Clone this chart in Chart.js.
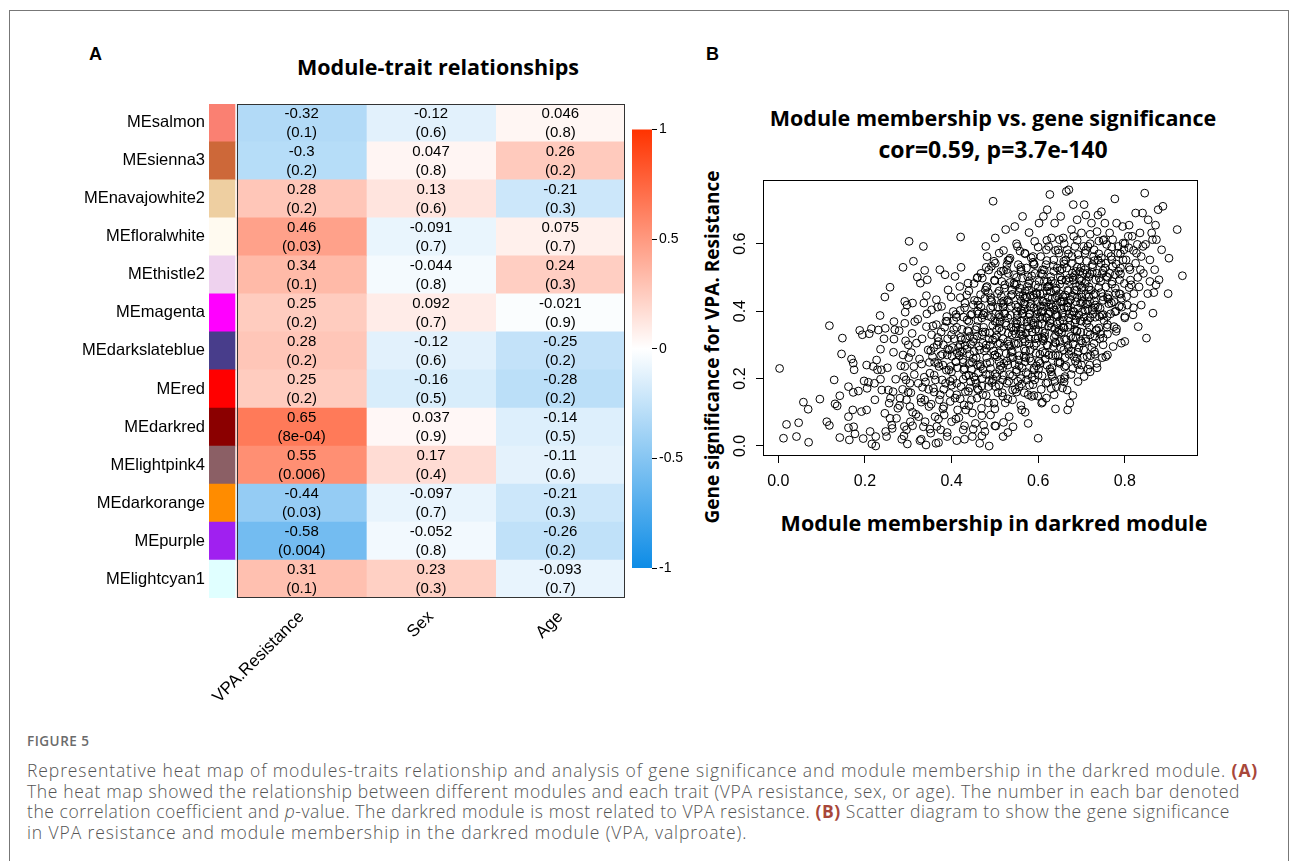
<!DOCTYPE html>
<html>
<head>
<meta charset="utf-8">
<script src="https://cdn.jsdelivr.net/npm/chart.js@4.4.1/dist/chart.umd.min.js"></script>
<style>
  body { margin: 0; width: 1293px; height: 861px; overflow: hidden; position: relative; background: #fff; font-family: 'Liberation Sans', Arial, sans-serif; }
  .frame { position: absolute; left: 9px; top: 10px; width: 1278px; height: 900px; border: 1px solid #777; }
  canvas { position: absolute; }
  .lbl { position: absolute; white-space: nowrap; transform: translate(-50%, -50%); color: #000; }
  .hd { font-family: 'Open Sans', Lato, sans-serif; font-weight: 700; }
  .panel { position: absolute; font-family: 'Liberation Sans', Arial, sans-serif; font-weight: 700; font-size: 18px; }
  .cap { position: absolute; left: 27px; white-space: nowrap; font-family: 'Open Sans', sans-serif; font-weight: 300; color: #555; font-size: 17.5px; letter-spacing: 0.9px; }
  .cap b { font-weight: 700; color: #a8473a; }
  .figno { position: absolute; left: 27px; top: 732px; font-family: 'Open Sans', sans-serif; color: #6b6b6b; font-size: 13.5px; letter-spacing: 0.5px; font-weight: 600; }
</style>
</head>
<body>
<div class="frame"></div>

<div class="panel" style="left:89px; top:44px;">A</div>
<div class="panel" style="left:706px; top:44px;">B</div>
<div class="lbl hd" style="left:438px; top:66px; font-size:21.5px;">Module-trait relationships</div>
<div class="lbl hd" style="left:993px; top:117px; font-size:21.5px;">Module membership vs. gene significance</div>
<div class="lbl hd" style="left:993px; top:149px; font-size:23px;">cor=0.59, p=3.7e-140</div>
<div class="lbl hd" style="left:994px; top:522px; font-size:21.5px;">Module membership in darkred module</div>
<div class="lbl hd" style="left:712px; top:347px; font-size:19px; transform:translate(-50%,-50%) rotate(-90deg);">Gene significance for VPA. Resistance</div>

<canvas id="heat" width="580" height="630" style="left:60px; top:90px;"></canvas>
<canvas id="bar" width="70" height="462" style="left:622px; top:119px;"></canvas>
<canvas id="scatter" width="520" height="330" style="left:690px; top:170px;"></canvas>

<div class="figno">FIGURE 5</div>
<div class="cap" style="top:758px;">Representative heat map of modules-traits relationship and analysis of gene significance and module membership in the darkred module. <b>(A)</b></div>
<div class="cap" style="top:779px; letter-spacing:0.65px;">The heat map showed the relationship between different modules and each trait (VPA resistance, sex, or age). The number in each bar denoted</div>
<div class="cap" style="top:799px; letter-spacing:0.55px;">the correlation coefficient and <i>p</i>-value. The darkred module is most related to VPA resistance. <b>(B)</b> Scatter diagram to show the gene significance</div>
<div class="cap" style="top:820px;">in VPA resistance and module membership in the darkred module (VPA, valproate).</div>

<script>
// module-trait table
var modules = ['MEsalmon', 'MEsienna3', 'MEnavajowhite2', 'MEfloralwhite', 'MEthistle2', 'MEmagenta',
  'MEdarkslateblue', 'MEred', 'MEdarkred', 'MElightpink4', 'MEdarkorange', 'MEpurple', 'MElightcyan1'];
var moduleColors = ['#FA8072', '#CD6839', '#EECFA1', '#FFFAF0', '#EED2EE', '#FF00FF',
  '#483D8B', '#FF0000', '#8B0000', '#8B5F65', '#FF8C00', '#A020F0', '#E0FFFF'];
var traits = ['VPA.Resistance', 'Sex', 'Age'];
var corVPA = [-0.32, -0.3, 0.28, 0.46, 0.34, 0.25, 0.28, 0.25, 0.65, 0.55, -0.44, -0.58, 0.31];
var pVPA = ['0.1', '0.2', '0.2', '0.03', '0.1', '0.2', '0.2', '0.2', '8e-04', '0.006', '0.03', '0.004', '0.1'];
var corSex = [-0.12, 0.047, 0.13, -0.091, -0.044, 0.092, -0.12, -0.16, 0.037, 0.17, -0.097, -0.052, 0.23];
var pSex = ['0.6', '0.8', '0.6', '0.7', '0.8', '0.7', '0.6', '0.5', '0.9', '0.4', '0.7', '0.8', '0.3'];
var corAge = [0.046, 0.26, -0.21, 0.075, 0.24, -0.021, -0.25, -0.28, -0.14, -0.11, -0.21, -0.26, -0.093];
var pAge = ['0.8', '0.2', '0.3', '0.7', '0.3', '0.9', '0.2', '0.2', '0.5', '0.6', '0.3', '0.2', '0.7'];
var colorbarTicks = [1, 0.5, 0, -0.5, -1];

// module membership vs gene significance
var mmTicks = [0, 0.2, 0.4, 0.6, 0.8];
var gsTicks = [0, 0.2, 0.4, 0.6];
var mmGsOuter = [[0.003,0.23],[0.012,0.023],[0.019,0.064],[0.042,0.028],[0.047,0.069],[0.058,0.13],[0.069,0.109],[0.07,0.011],[0.096,0.139],[0.112,0.072],[0.118,0.061],[0.118,0.357],[0.129,0.196],[0.131,0.125],[0.136,0.119],[0.142,0.149],[0.142,0.025],[0.146,0.273],[0.148,0.32],[0.162,0.087],[0.162,0.176],[0.162,0.054],[0.164,0.018],[0.169,0.258],[0.172,0.107],[0.173,0.246],[0.175,0.226],[0.173,0.159],[0.174,0.057],[0.177,0.036],[0.185,0.163],[0.188,0.343],[0.194,0.33],[0.192,0.102],[0.196,0.022],[0.198,0.193],[0.204,0.107],[0.204,0.24],[0.205,0.171],[0.208,0.189],[0.21,0.333],[0.212,0.043],[0.215,0.348],[0.216,0.006],[0.219,0.236],[0.222,0.186],[0.223,0.137],[0.225,0],[0.225,0.028],[0.227,0.255],[0.229,0.226],[0.231,0.344],[0.235,0.387],[0.236,0.287],[0.238,0.226],[0.239,0.166],[0.246,0.442],[0.247,0.349],[0.246,0.097],[0.248,0.043],[0.25,0.028],[0.258,0.471],[0.254,0.166],[0.256,0.127],[0.258,0.082],[0.262,0.062],[0.263,0.052],[0.265,0.161],[0.267,0.369],[0.269,0.345],[0.267,0.317],[0.273,0.082],[0.281,0.142],[0.288,0.53],[0.288,0.27],[0.285,0.02],[0.29,0.206],[0.292,0.429],[0.293,0.397],[0.292,0.364],[0.292,0.236],[0.295,0.196],[0.296,0.137],[0.296,0.048],[0.298,0.006],[0.302,0.607],[0.3,0.3],[0.304,0.186],[0.304,0.117],[0.305,0.072],[0.307,0.277],[0.31,0.424],[0.312,0.548],[0.313,0.236],[0.315,0.369],[0.319,0.305],[0.321,0.501],[0.323,0.186],[0.324,0.087],[0.327,0.016],[0.328,0.483],[0.331,0.243],[0.333,0.174],[0.335,0.592],[0.335,0.057],[0.336,0.424],[0.338,0.521],[0.338,0.137],[0.341,0.003],[0.342,0.446],[0.342,0.354],[0.344,0.493],[0.346,0.285],[0.348,0.117],[0.35,0.216],[0.352,0.038],[0.354,0.404],[0.354,0.33],[0.356,0.265],[0.358,0.171],[0.362,0.087],[0.364,0.008],[0.365,0.36],[0.365,0.434],[0.367,0.3],[0.369,0.245],[0.372,0.137],[0.373,0.523],[0.375,0.048],[0.377,0.414],[0.378,0.196],[0.381,0.3],[0.382,0.117],[0.385,0.508],[0.387,0.37],[0.388,0.225],[0.39,0.028],[0.392,0.463],[0.395,0.285],[0.396,0.156],[0.4,0.072],[0.404,0.399],[0.405,0.345],[0.408,0.503],[0.41,0.25],[0.412,0.016],[0.412,0.186],[0.414,0.107],[0.419,0.473],[0.421,0.62],[0.422,0.53],[0.423,0.315],[0.425,0.28],[0.427,0.048],[0.428,0.226],[0.431,0.424],[0.432,0.161],[0.433,0.107],[0.436,0.374],[0.438,0.483],[0.441,0.245],[0.442,0.325],[0.444,0.191],[0.446,0.137],[0.448,0.028],[0.45,0.419],[0.452,0.28],[0.455,0.067],[0.458,0.354],[0.459,0.498],[0.462,0.216],[0.462,0.166],[0.465,0.008],[0.467,0.449],[0.469,0.112],[0.472,0.305],[0.473,0.389],[0.477,0.043],[0.479,0.592],[0.481,0.245],[0.482,0.473],[0.485,0.176],[0.487,0],[0.488,0.335],[0.49,0.092],[0.492,0.533],[0.495,0.414],[0.496,0.726],[0.498,0.127],[0.5,0.27],[0.501,0.617],[0.502,0.059],[0.504,0.369],[0.505,0.206],[0.508,0.508],[0.51,0.572],[0.512,0.305],[0.515,0.444],[0.518,0.147],[0.519,0.028],[0.521,0.245],[0.523,0.394],[0.525,0.642],[0.527,0.523],[0.528,0.186],[0.531,0.335],[0.533,0.087],[0.535,0.557],[0.536,0.265],[0.538,0.414],[0.541,0.137],[0.542,0.057],[0.544,0.483],[0.546,0.651],[0.548,0.364],[0.55,0.226],[0.552,0.592],[0.554,0.305],[0.556,0.176],[0.558,0.444],[0.56,0.523],[0.562,0.107],[0.564,0.681],[0.565,0.394],[0.567,0.265],[0.569,0.572],[0.572,0.335],[0.573,0.196],[0.575,0.473],[0.577,0.067],[0.579,0.633],[0.581,0.414],[0.582,0.285],[0.585,0.147],[0.588,0.545],[0.589,0.364],[0.591,0.226],[0.592,0.607],[0.595,0.453],[0.596,0.305],[0.6,0.023],[0.602,0.661],[0.604,0.384],[0.605,0.245],[0.608,0.127],[0.61,0.523],[0.612,0.681],[0.613,0.414],[0.615,0.325],[0.618,0.186],[0.619,0.582],[0.621,0.701],[0.623,0.473],[0.625,0.27],[0.627,0.746],[0.628,0.364],[0.631,0.617],[0.633,0.206],[0.635,0.535],[0.637,0.404],[0.638,0.661],[0.641,0.305],[0.642,0.176],[0.644,0.444],[0.646,0.582],[0.649,0.344],[0.65,0.245],[0.652,0.681],[0.654,0.493],[0.656,0.394],[0.658,0.617],[0.659,0.285],[0.662,0.206],[0.664,0.552],[0.665,0.755],[0.667,0.166],[0.668,0.107],[0.669,0.424],[0.671,0.76],[0.673,0.127],[0.675,0.325],[0.677,0.642],[0.679,0.513],[0.681,0.716],[0.682,0.265],[0.685,0.592],[0.687,0.374],[0.688,0.473],[0.69,0.671],[0.692,0.191],[0.695,0.552],[0.696,0.226],[0.698,0.424],[0.7,0.632],[0.702,0.305],[0.706,0.716],[0.708,0.523],[0.71,0.685],[0.712,0.364],[0.713,0.265],[0.715,0.592],[0.718,0.463],[0.719,0.24],[0.723,0.661],[0.725,0.404],[0.728,0.562],[0.731,0.325],[0.733,0.493],[0.735,0.245],[0.736,0.636],[0.738,0.685],[0.741,0.384],[0.745,0.542],[0.746,0.695],[0.749,0.443],[0.75,0.3],[0.752,0.612],[0.754,0.661],[0.756,0.265],[0.758,0.503],[0.759,0.384],[0.762,0.572],[0.765,0.632],[0.769,0.424],[0.772,0.533],[0.773,0.295],[0.775,0.354],[0.777,0.733],[0.779,0.453],[0.781,0.661],[0.785,0.592],[0.787,0.414],[0.788,0.493],[0.792,0.305],[0.795,0.651],[0.796,0.552],[0.8,0.384],[0.804,0.443],[0.808,0.622],[0.81,0.655],[0.812,0.523],[0.815,0.478],[0.819,0.389],[0.825,0.691],[0.827,0.572],[0.831,0.354],[0.835,0.632],[0.836,0.523],[0.838,0.418],[0.841,0.691],[0.842,0.592],[0.846,0.75],[0.85,0.32],[0.854,0.671],[0.858,0.488],[0.862,0.632],[0.865,0.394],[0.867,0.455],[0.869,0.523],[0.871,0.655],[0.873,0.612],[0.877,0.701],[0.879,0.493],[0.885,0.582],[0.888,0.711],[0.9,0.452],[0.902,0.557],[0.921,0.642],[0.933,0.505]];
var mmGsCore = [[0.36,0.21],[0.38,0.24],[0.40,0.22],[0.41,0.25],[0.43,0.23],[0.44,0.21],[0.46,0.24],[0.47,0.20],[0.49,0.23],[0.51,0.25],[0.52,0.21],[0.53,0.24],[0.55,0.22],[0.56,0.20],[0.57,0.25],[0.59,0.23],[0.60,0.21],[0.62,0.24],[0.63,0.22],[0.65,0.25],[0.66,0.20],[0.68,0.23],[0.70,0.24],[0.72,0.22],[0.39,0.27],[0.42,0.28],[0.45,0.26],[0.48,0.29],[0.50,0.27],[0.54,0.28],[0.58,0.26],[0.61,0.28],[0.64,0.27],[0.67,0.29],[0.69,0.26],[0.73,0.28],[0.76,0.27],
[0.37,0.31],[0.40,0.33],[0.42,0.30],[0.44,0.34],[0.45,0.31],[0.47,0.33],[0.48,0.30],[0.50,0.32],[0.51,0.35],[0.53,0.31],[0.54,0.33],[0.56,0.34],[0.57,0.31],[0.58,0.35],[0.60,0.32],[0.61,0.34],[0.62,0.30],[0.64,0.33],[0.65,0.31],[0.66,0.35],[0.68,0.32],[0.69,0.34],[0.71,0.31],[0.72,0.33],[0.74,0.35],[0.75,0.32],[0.78,0.34],[0.80,0.31],
[0.39,0.37],[0.41,0.39],[0.43,0.41],[0.44,0.37],[0.46,0.40],[0.47,0.38],[0.49,0.41],[0.50,0.37],[0.51,0.39],[0.52,0.42],[0.53,0.38],[0.55,0.40],[0.56,0.37],[0.57,0.42],[0.58,0.39],[0.59,0.41],[0.60,0.36],[0.61,0.40],[0.62,0.38],[0.63,0.42],[0.64,0.39],[0.65,0.37],[0.66,0.41],[0.67,0.38],[0.68,0.40],[0.70,0.37],[0.71,0.42],[0.72,0.38],[0.73,0.41],[0.75,0.39],[0.76,0.36],[0.78,0.40],[0.80,0.38],[0.82,0.41],
[0.42,0.44],[0.44,0.46],[0.46,0.43],[0.48,0.47],[0.49,0.44],[0.51,0.46],[0.52,0.43],[0.54,0.45],[0.55,0.48],[0.56,0.43],[0.57,0.46],[0.59,0.44],[0.60,0.47],[0.61,0.43],[0.62,0.46],[0.64,0.44],[0.65,0.48],[0.66,0.43],[0.67,0.46],[0.69,0.44],[0.70,0.47],[0.71,0.45],[0.73,0.43],[0.74,0.47],[0.76,0.44],[0.77,0.48],[0.79,0.45],[0.81,0.47],
[0.46,0.50],[0.48,0.53],[0.50,0.49],[0.52,0.52],[0.53,0.55],[0.55,0.50],[0.56,0.53],[0.58,0.49],[0.59,0.54],[0.61,0.51],[0.62,0.55],[0.63,0.49],[0.65,0.52],[0.66,0.54],[0.68,0.50],[0.69,0.53],[0.70,0.49],[0.72,0.51],[0.73,0.55],[0.75,0.52],[0.76,0.50],[0.78,0.54],[0.79,0.51],[0.81,0.53],[0.83,0.50],
[0.52,0.58],[0.55,0.60],[0.57,0.57],[0.60,0.59],[0.62,0.61],[0.64,0.58],[0.66,0.60],[0.67,0.57],[0.69,0.61],[0.71,0.58],[0.72,0.60],[0.74,0.57],[0.75,0.61],[0.77,0.59],[0.79,0.57],[0.80,0.60],[0.82,0.58],
[0.33,0.13],[0.36,0.16],[0.38,0.11],[0.40,0.18],[0.42,0.14],[0.44,0.12],[0.46,0.17],[0.48,0.15],[0.50,0.11],[0.51,0.18],[0.53,0.14],[0.55,0.16],[0.56,0.12],[0.58,0.18],[0.59,0.15],[0.61,0.13],[0.63,0.17],[0.64,0.11],[0.66,0.19],[0.68,0.15],[0.34,0.19],[0.30,0.16],[0.28,0.12],[0.31,0.10],[0.37,0.08],[0.43,0.06],[0.47,0.09],[0.52,0.07],[0.57,0.10],
[0.29,0.03],[0.31,0.06],[0.33,0.02],[0.35,0.05],[0.37,0.01],[0.39,0.04],[0.41,0.08],[0.43,0.02],[0.45,0.05],[0.47,0.03],[0.50,0.06],[0.53,0.04],
[0.455,0.345],[0.465,0.285],[0.475,0.395],[0.485,0.455],[0.495,0.315],[0.505,0.265],[0.515,0.425],[0.525,0.365],[0.535,0.485],[0.545,0.305],[0.555,0.255],[0.565,0.445],[0.575,0.355],[0.585,0.505],[0.595,0.275],[0.605,0.415],[0.615,0.335],[0.625,0.475],[0.635,0.295],[0.645,0.385],[0.655,0.525],[0.665,0.315],[0.675,0.435],[0.685,0.365],[0.695,0.495],[0.705,0.285],[0.715,0.405],[0.725,0.515],[0.735,0.345],[0.745,0.455],
[0.462,0.392],[0.478,0.338],[0.493,0.428],[0.508,0.302],[0.522,0.468],[0.538,0.352],[0.553,0.412],[0.568,0.288],[0.583,0.372],[0.597,0.452],[0.612,0.312],[0.628,0.398],[0.642,0.468],[0.657,0.352],[0.672,0.488],[0.687,0.322],[0.702,0.428],[0.717,0.472],[0.732,0.382],[0.748,0.512],[0.763,0.422],[0.778,0.468],
[0.512,0.368],[0.532,0.428],[0.548,0.332],[0.563,0.392],[0.578,0.462],[0.593,0.318],[0.608,0.378],[0.623,0.442],[0.638,0.348],[0.653,0.408],[0.668,0.462],[0.683,0.398],[0.698,0.338],[0.713,0.512],[0.728,0.448],[0.743,0.408],
[0.418,0.268],[0.432,0.318],[0.448,0.248],[0.472,0.228],[0.488,0.212],[0.518,0.232],[0.542,0.262],[0.572,0.218],[0.602,0.252],[0.632,0.232],[0.662,0.262],[0.692,0.278],
[0.402,0.292],[0.412,0.352],[0.428,0.382],[0.452,0.482],[0.468,0.512],[0.482,0.562],[0.498,0.548],[0.528,0.538],[0.558,0.578],[0.588,0.562],[0.618,0.538],[0.648,0.572],[0.678,0.562],[0.708,0.572],[0.738,0.552],[0.768,0.562],[0.798,0.582]];
var mmGsFill = [[0.301,0.262],[0.306,0.158],[0.309,0.334],[0.314,0.212],[0.318,0.094],[0.322,0.376],[0.326,0.258],[0.329,0.142],[0.332,0.318],[0.337,0.204],[0.339,0.072],[0.343,0.392],[0.347,0.168],[0.349,0.248],[0.353,0.124],[0.357,0.356],[0.359,0.292],[0.363,0.196],[0.366,0.058],[0.368,0.412],[0.371,0.236],[0.374,0.152],[0.376,0.338],[0.379,0.272],[0.383,0.092],[0.386,0.186],[0.389,0.384],[0.391,0.318],[0.394,0.226],[0.397,0.132],[0.399,0.442],
[0.401,0.266],[0.403,0.198],[0.406,0.318],[0.408,0.142],[0.411,0.382],[0.413,0.232],[0.416,0.292],[0.417,0.084],[0.42,0.402],[0.422,0.176],[0.424,0.346],[0.426,0.256],[0.429,0.122],[0.431,0.298],[0.433,0.208],[0.435,0.448],[0.437,0.342],[0.439,0.162],[0.442,0.272],[0.444,0.388],[0.446,0.228],[0.448,0.098],[0.451,0.318],[0.453,0.432],[0.455,0.196],[0.457,0.262],[0.459,0.142],[0.461,0.372],[0.463,0.296],[0.466,0.242],[0.468,0.412],[0.47,0.178],[0.472,0.338],[0.474,0.062],[0.476,0.282],[0.478,0.462],[0.48,0.212],[0.483,0.386],[0.485,0.128],[0.487,0.318],[0.489,0.248],[0.491,0.432],[0.493,0.188],[0.495,0.358],[0.497,0.282],[0.499,0.492],
[0.501,0.214],[0.502,0.392],[0.504,0.328],[0.506,0.452],[0.507,0.158],[0.509,0.276],[0.511,0.382],[0.513,0.238],[0.514,0.518],[0.516,0.342],[0.518,0.196],[0.519,0.412],[0.521,0.296],[0.523,0.478],[0.524,0.128],[0.526,0.358],[0.528,0.252],[0.529,0.432],[0.531,0.302],[0.533,0.552],[0.534,0.212],[0.536,0.388],[0.538,0.278],[0.539,0.462],[0.541,0.166],[0.543,0.342],[0.544,0.508],[0.546,0.242],[0.548,0.418],[0.549,0.302],[0.551,0.372],[0.553,0.192],[0.554,0.538],[0.556,0.268],[0.558,0.468],[0.559,0.332],[0.561,0.402],[0.563,0.232],[0.564,0.498],[0.566,0.318],[0.568,0.158],[0.569,0.438],[0.571,0.282],[0.573,0.528],[0.574,0.368],[0.576,0.212],[0.578,0.482],[0.579,0.318],[0.581,0.392],[0.583,0.252],[0.584,0.558],[0.586,0.338],[0.588,0.182],[0.589,0.448],[0.591,0.298],[0.593,0.512],[0.594,0.378],[0.596,0.238],[0.598,0.428],[0.599,0.148],
[0.601,0.342],[0.602,0.488],[0.604,0.272],[0.606,0.562],[0.607,0.398],[0.609,0.208],[0.611,0.452],[0.612,0.318],[0.614,0.522],[0.616,0.258],[0.617,0.382],[0.619,0.142],[0.621,0.472],[0.622,0.298],[0.624,0.592],[0.626,0.412],[0.627,0.228],[0.629,0.502],[0.631,0.352],[0.632,0.438],[0.634,0.268],[0.636,0.552],[0.637,0.322],[0.639,0.192],[0.641,0.462],[0.642,0.388],[0.644,0.528],[0.646,0.248],[0.647,0.338],[0.649,0.612],[0.651,0.428],[0.652,0.292],[0.654,0.492],[0.656,0.172],[0.657,0.372],[0.659,0.548],[0.661,0.318],[0.662,0.448],[0.664,0.238],[0.666,0.412],[0.667,0.582],[0.669,0.352],[0.671,0.272],[0.672,0.498],[0.674,0.432],[0.676,0.212],[0.677,0.542],[0.679,0.388],[0.681,0.302],[0.682,0.622],[0.684,0.462],[0.686,0.252],[0.687,0.518],[0.689,0.342],[0.691,0.408],[0.692,0.568],[0.694,0.292],[0.696,0.478],[0.697,0.372],[0.699,0.528],
[0.701,0.442],[0.703,0.262],[0.705,0.592],[0.706,0.382],[0.708,0.482],[0.71,0.318],[0.712,0.548],[0.713,0.422],[0.715,0.228],[0.717,0.502],[0.718,0.352],[0.72,0.628],[0.722,0.462],[0.724,0.292],[0.725,0.538],[0.727,0.392],[0.729,0.582],[0.731,0.272],[0.732,0.452],[0.734,0.342],[0.736,0.512],[0.738,0.412],[0.74,0.608],[0.742,0.318],[0.744,0.488],[0.746,0.558],[0.748,0.262],[0.75,0.432],[0.752,0.372],[0.754,0.528],[0.756,0.472],[0.758,0.598],[0.76,0.332],[0.762,0.448],[0.765,0.512],[0.767,0.392],[0.77,0.552],[0.772,0.612],[0.775,0.428],[0.778,0.508],[0.781,0.348],[0.784,0.572],[0.787,0.452],[0.79,0.528],[0.793,0.412],[0.796,0.602],[0.799,0.482],
[0.803,0.552],[0.806,0.418],[0.809,0.588],[0.813,0.492],[0.817,0.622],[0.821,0.452],[0.825,0.542],[0.829,0.598],[0.833,0.472],[0.838,0.562],[0.843,0.512],[0.848,0.598],[0.853,0.452],[0.858,0.552],[0.864,0.612],[0.872,0.478],
[0.236,0.198],[0.244,0.318],[0.252,0.232],[0.259,0.142],[0.266,0.278],[0.271,0.198],[0.276,0.112],[0.279,0.342],[0.283,0.238],[0.287,0.168],[0.291,0.058],[0.294,0.312],[0.297,0.418]];
var mmGsDense = [[0.452,0.204],[0.467,0.236],[0.481,0.262],[0.496,0.198],[0.511,0.226],[0.526,0.274],[0.541,0.208],[0.556,0.238],[0.571,0.262],[0.586,0.204],[0.601,0.228],[0.616,0.276],[0.631,0.212],[0.646,0.268],[0.661,0.234],[0.676,0.282],[0.691,0.242],[0.706,0.206],[0.721,0.268],[0.736,0.232],
[0.444,0.302],[0.459,0.326],[0.474,0.352],[0.489,0.298],[0.504,0.344],[0.519,0.318],[0.534,0.296],[0.549,0.352],[0.564,0.328],[0.579,0.302],[0.594,0.346],[0.609,0.322],[0.624,0.356],[0.639,0.308],[0.654,0.336],[0.669,0.298],[0.684,0.346],[0.699,0.312],[0.714,0.338],[0.729,0.304],[0.744,0.332],[0.759,0.352],
[0.447,0.392],[0.462,0.418],[0.477,0.438],[0.492,0.382],[0.507,0.412],[0.522,0.392],[0.537,0.446],[0.552,0.388],[0.567,0.422],[0.582,0.446],[0.597,0.392],[0.612,0.428],[0.627,0.372],[0.642,0.418],[0.657,0.442],[0.672,0.392],[0.687,0.428],[0.702,0.398],[0.717,0.442],[0.732,0.418],[0.747,0.388],[0.762,0.436],[0.777,0.398],[0.792,0.438],
[0.471,0.498],[0.486,0.522],[0.501,0.542],[0.516,0.488],[0.531,0.512],[0.546,0.478],[0.561,0.518],[0.576,0.502],[0.591,0.538],[0.606,0.512],[0.621,0.488],[0.636,0.518],[0.651,0.502],[0.666,0.528],[0.681,0.492],[0.696,0.518],[0.711,0.488],[0.726,0.532],[0.741,0.498],[0.756,0.542],[0.771,0.488],[0.786,0.518],
[0.382,0.168],[0.397,0.192],[0.412,0.152],[0.427,0.198],[0.442,0.172],[0.457,0.186],[0.472,0.152],[0.487,0.194],[0.502,0.176],[0.517,0.158],[0.532,0.192],[0.547,0.168],[0.562,0.184],[0.577,0.152],[0.592,0.196],[0.607,0.168],[0.622,0.188],[0.637,0.152],[0.652,0.198],
[0.352,0.282],[0.361,0.248],[0.368,0.322],[0.375,0.268],[0.384,0.352],[0.391,0.288],[0.398,0.236],[0.405,0.372],[0.413,0.276],[0.421,0.322],[0.427,0.248],[0.436,0.288],
[0.552,0.362],[0.557,0.456],[0.562,0.348],[0.568,0.406],[0.573,0.442],[0.578,0.382],[0.584,0.422],[0.589,0.358],[0.594,0.478],[0.599,0.402],[0.604,0.452],[0.609,0.362],[0.614,0.488],[0.619,0.426],[0.624,0.392],[0.629,0.458],[0.634,0.412],[0.639,0.482],[0.644,0.362],[0.649,0.452],[0.654,0.428],[0.659,0.382],[0.664,0.492],[0.669,0.412],[0.674,0.358],[0.679,0.446],[0.684,0.506],[0.689,0.462],[0.694,0.388],[0.699,0.452],[0.704,0.512],[0.709,0.402],[0.714,0.372],[0.719,0.428]];

var blueEnd = [13, 140, 230];
var redEnd = [255, 51, 0];
function corrColor(v) {
  var e = v < 0 ? blueEnd : redEnd;
  var t = Math.min(Math.abs(v), 1);
  return 'rgb(' + e.map(function (c) { return Math.round(255 + (c - 255) * t); }).join(',') + ')';
}

var cors = [corVPA, corSex, corAge];
var pvals = [pVPA, pSex, pAge];
var heatFont = "'Liberation Sans', Arial, sans-serif";

document.addEventListener('DOMContentLoaded', function () {
  Chart.defaults.animation = false;
  Chart.defaults.plugins.legend.display = false;
  Chart.defaults.plugins.tooltip.enabled = false;
  Chart.defaults.font.family = heatFont;
  Chart.defaults.color = '#000';

  // ---------- heat map ----------
  var heatDatasets = [{
    data: modules.map(function () { return [-0.2165, -0.0155]; }),
    backgroundColor: moduleColors
  }];
  traits.forEach(function (t, i) {
    heatDatasets.push({
      label: t,
      data: modules.map(function () { return [i, i + 1]; }),
      backgroundColor: cors[i].map(corrColor)
    });
  });
  heatDatasets.forEach(function (d) {
    d.barPercentage = 1; d.categoryPercentage = 1; d.grouped = false; d.borderWidth = 0;
  });

  var heatLabels = {
    id: 'heatLabels',
    afterDatasetsDraw: function (chart) {
      var c = chart.ctx, xs = chart.scales.x, a = chart.chartArea;
      c.save();
      c.font = '15px ' + heatFont;
      c.fillStyle = '#000';
      c.textAlign = 'center';
      c.textBaseline = 'middle';
      for (var i = 0; i < traits.length; i++) {
        var meta = chart.getDatasetMeta(i + 1);
        meta.data.forEach(function (el, r) {
          var cx = (el.x + el.base) / 2;
          c.fillText(String(cors[i][r]), cx, el.y - 9);
          c.fillText('(' + pvals[i][r] + ')', cx, el.y + 10);
        });
      }
      c.strokeStyle = '#333';
      c.lineWidth = 1;
      var x0 = Math.round(xs.getPixelForValue(0)) + 0.5, x1 = Math.round(xs.getPixelForValue(3)) - 0.5;
      c.strokeRect(x0, Math.round(a.top) + 0.5, x1 - x0, Math.round(a.bottom - a.top) - 1);
      c.restore();
    }
  };

  new Chart(document.getElementById('heat'), {
    type: 'bar',
    data: { labels: modules, datasets: heatDatasets },
    options: {
      responsive: false, devicePixelRatio: 1, indexAxis: 'y',
      layout: { padding: { top: 8, right: 15, left: 0, bottom: 0 }, autoPadding: false },
      scales: {
        y: {
          grid: { display: false, drawTicks: false, tickLength: 0 }, border: { display: false },
          ticks: { font: { size: 16.5 }, padding: 4, color: '#000' },
          afterFit: function (s) { s.width = 149; }
        },
        x: {
          type: 'linear', min: -0.2165, max: 3,
          grid: { display: false, drawTicks: false, tickLength: 0 }, border: { display: false },
          afterBuildTicks: function (s) { s.ticks = traits.map(function (t, i) { return { value: i + 0.5 }; }); },
          ticks: {
            font: { size: 17 }, color: '#000', padding: 9, minRotation: 45, maxRotation: 45, autoSkip: false,
            callback: function (v, i) { return traits[i]; }
          },
          afterFit: function (s) { s.height = 122; }
        }
      }
    },
    plugins: [heatLabels]
  });

  // ---------- colour key ----------
  new Chart(document.getElementById('bar'), {
    type: 'bar',
    data: {
      labels: ['key'],
      datasets: [{
        data: [[-1, 1]], barPercentage: 1, categoryPercentage: 1, borderWidth: 0,
        backgroundColor: function (ctx) {
          var a = ctx.chart.chartArea;
          if (!a) return corrColor(0);
          var g = ctx.chart.ctx.createLinearGradient(0, a.bottom, 0, a.top);
          g.addColorStop(0, corrColor(-1));
          g.addColorStop(0.5, corrColor(0));
          g.addColorStop(1, corrColor(1));
          return g;
        }
      }]
    },
    options: {
      responsive: false, devicePixelRatio: 1,
      layout: { padding: { top: 10, left: 10, right: 0, bottom: 13 }, autoPadding: false },
      scales: {
        x: { display: false },
        y: {
          position: 'right', min: -1, max: 1,
          afterBuildTicks: function (s) { s.ticks = colorbarTicks.map(function (v) { return { value: v }; }); },
          grid: { drawOnChartArea: false, drawTicks: true, tickLength: 5, color: '#000' },
          border: { display: false },
          ticks: { font: { size: 14 }, padding: 2, color: '#000', callback: function (v) { return String(v); } },
          afterFit: function (s) { s.width = 40; }
        }
      }
    }
  });

  // ---------- scatter ----------
  var scatterFrame = {
    id: 'scatterFrame',
    afterDraw: function (chart) {
      var c = chart.ctx, a = chart.chartArea, ys = chart.scales.y;
      c.save();
      c.strokeStyle = '#000';
      c.lineWidth = 1;
      c.strokeRect(Math.round(a.left) + 0.5, Math.round(a.top) + 0.5, Math.round(a.right - a.left) - 1, Math.round(a.bottom - a.top) - 1);
      c.font = '16px ' + heatFont;
      c.fillStyle = '#000';
      c.textAlign = 'center';
      c.textBaseline = 'middle';
      gsTicks.forEach(function (v) {
        c.save();
        c.translate(a.left - 22, ys.getPixelForValue(v));
        c.rotate(-Math.PI / 2);
        c.fillText(v.toFixed(1), 0, 0);
        c.restore();
      });
      c.restore();
    }
  };

  new Chart(document.getElementById('scatter'), {
    type: 'scatter',
    data: {
      datasets: [{
        data: mmGsOuter.concat(mmGsCore, mmGsFill, mmGsDense).map(function (p) { return { x: p[0], y: p[1] }; }),
        pointRadius: 3.9, pointBorderWidth: 1, pointBorderColor: '#000', pointBackgroundColor: 'rgba(0,0,0,0)'
      }]
    },
    options: {
      responsive: false, devicePixelRatio: 1,
      layout: { padding: { top: 10, right: 12, left: 0, bottom: 0 }, autoPadding: false },
      scales: {
        x: {
          type: 'linear', min: -0.0353, max: 0.969,
          afterBuildTicks: function (s) { s.ticks = mmTicks.map(function (v) { return { value: v }; }); },
          grid: { drawOnChartArea: false, drawTicks: true, tickLength: 7, color: '#000' },
          border: { display: false },
          ticks: { font: { size: 16 }, padding: 9, color: '#000', maxRotation: 0, callback: function (v) { return v.toFixed(1); } },
          afterFit: function (s) { s.height = 44; }
        },
        y: {
          type: 'linear', min: -0.0297, max: 0.789,
          afterBuildTicks: function (s) { s.ticks = gsTicks.map(function (v) { return { value: v }; }); },
          grid: { drawOnChartArea: false, drawTicks: true, tickLength: 7, color: '#000' },
          border: { display: false },
          ticks: { display: false },
          afterFit: function (s) { s.width = 73; }
        }
      }
    },
    plugins: [scatterFrame]
  });
});
</script>
</body>
</html>
